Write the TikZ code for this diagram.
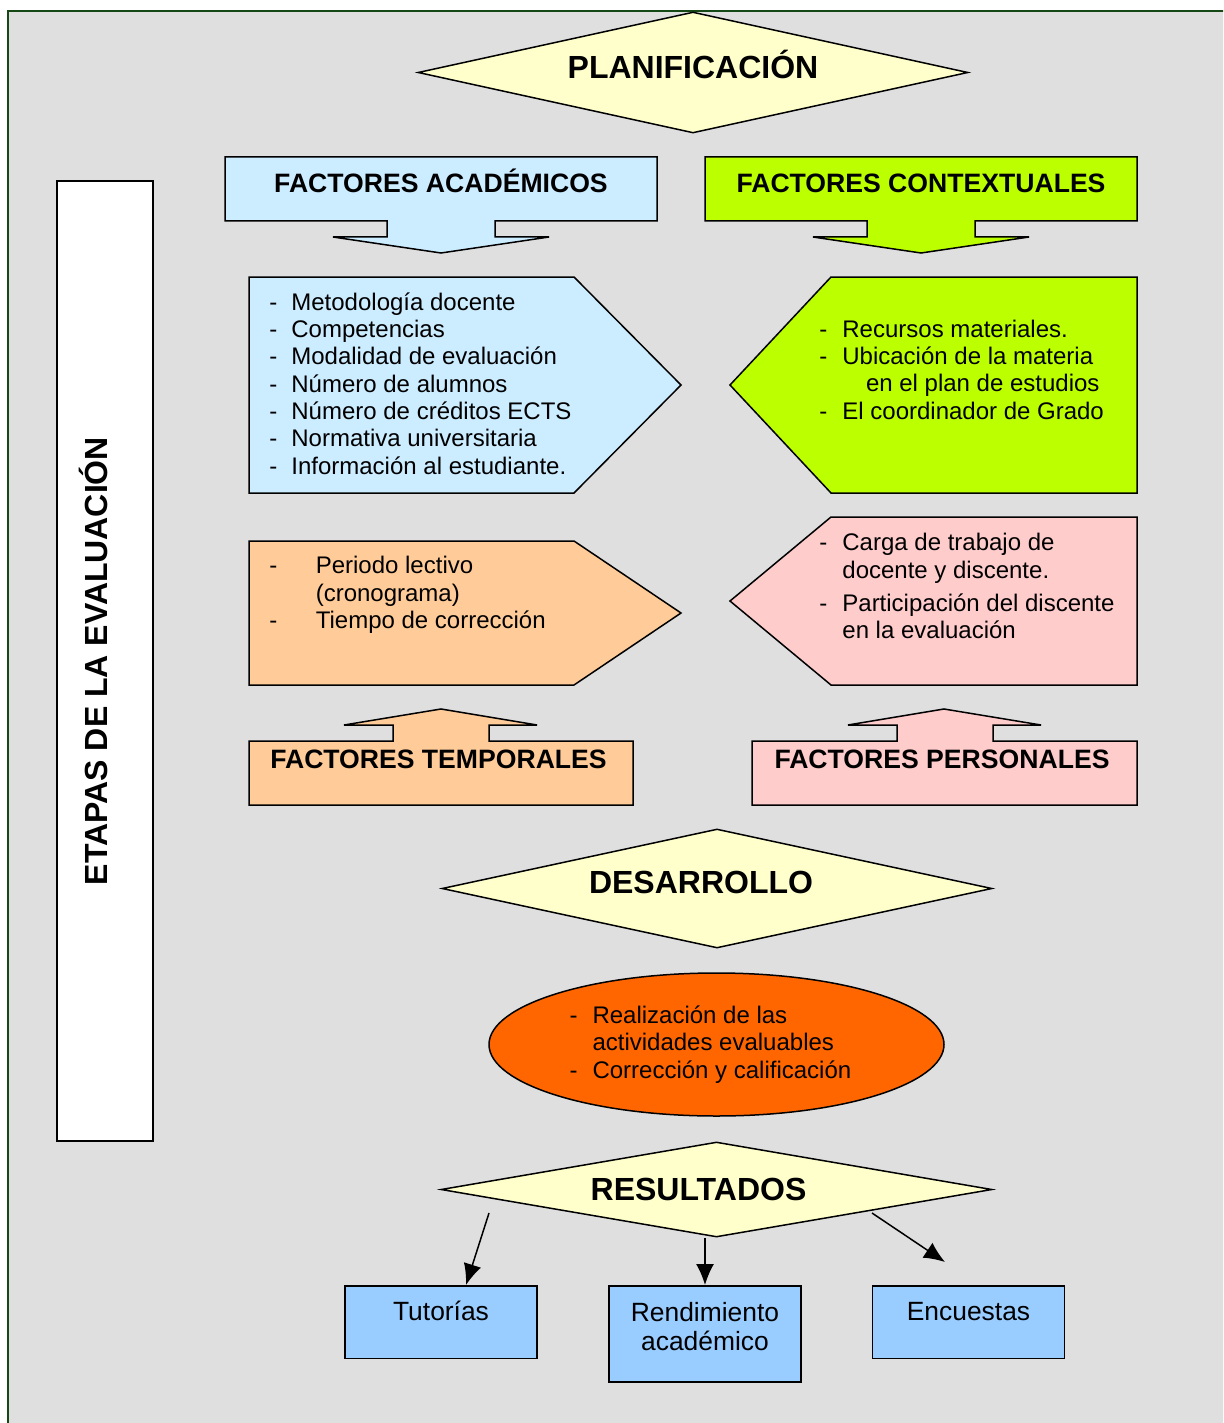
\documentclass[tikz,border=0pt]{standalone}
\usepackage{fontspec}
\setmainfont{Liberation Sans}
\usepackage{tikz}
\usetikzlibrary{shapes,arrows.meta}

\definecolor{fondo}{RGB}{223,223,223}
\definecolor{marco}{RGB}{22,72,22}
\definecolor{amarillo}{RGB}{255,255,204}
\definecolor{celeste}{RGB}{204,236,255}
\definecolor{lima}{RGB}{187,255,0}
\definecolor{melocoton}{RGB}{255,204,153}
\definecolor{rosa}{RGB}{255,204,204}
\definecolor{naranja}{RGB}{255,102,0}
\definecolor{azul}{RGB}{153,204,255}

\newcommand{\guion}[1][11pt]{\makebox[#1][l]{-}}

\tikzstyle{decision} = [diamond, draw, fill=amarillo, aspect=4.5, inner sep=0pt, line width=0.75pt, font=\bfseries\fontsize{16}{19}\selectfont]
\tikzstyle{panel} = [draw, line width=0.75pt]
\tikzstyle{factor} = [anchor=base, inner sep=0pt, font=\bfseries\fontsize{13.3}{16}\selectfont]
\tikzstyle{lista} = [anchor=base west, align=left, inner sep=0pt, font=\fontsize{12}{13.65}\selectfont]
\tikzstyle{result} = [rectangle, draw, fill=azul, line width=0.75pt, minimum width=96pt, inner sep=0pt, anchor=north, align=center, font=\fontsize{13.2}{14.75}\selectfont]
\tikzstyle{line} = [draw, line width=0.75pt, -{Latex[length=10.5pt,width=9pt]}]

\begin{document}
\begin{tikzpicture}[x=0.5pt, y=-0.5pt]
    \useasboundingbox (0,0) rectangle (1223,1423);
    \clip (0,0) rectangle (1223,1423);
    \draw[marco, line width=1pt, fill=fondo] (8,11) rectangle (1240,1440);

    % Place nodes
    \node [draw, fill=white, line width=0.75pt, rotate=90, minimum width=480pt, minimum height=48pt, inner sep=0pt, text height=8pt, text depth=6pt, font=\bfseries\fontsize{16}{19}\selectfont] (etapas) at (105,661) {ETAPAS DE LA EVALUACIÓN};
    \node [decision, minimum width=275pt, minimum height=60.5pt, text height=10pt, text depth=4pt] (plan) at (693,72.5) {PLANIFICACIÓN};

    % factores
    \filldraw [panel, fill=celeste] (225,157) -- (657,157) -- (657,221) -- (495,221) -- (495,237) -- (549,237) -- (441,253) -- (333,237) -- (387,237) -- (387,221) -- (225,221) -- cycle;
    \node [factor] (acad) at (441,192.3) {FACTORES ACADÉMICOS};
    \filldraw [panel, fill=lima] (705,157) -- (1137,157) -- (1137,221) -- (975,221) -- (975,237) -- (1029,237) -- (921,253) -- (813,237) -- (867,237) -- (867,221) -- (705,221) -- cycle;
    \node [factor] (contex) at (921,192.3) {FACTORES CONTEXTUALES};

    \filldraw [panel, fill=celeste] (249,277) -- (574,277) -- (681,385) -- (574,493) -- (249,493) -- cycle;
    \node [lista] (acadlista) at (269,474) {\guion Metodología docente\\ \guion Competencias\\ \guion Modalidad de evaluación\\ \guion Número de alumnos\\ \guion Número de créditos ECTS\\ \guion Normativa universitaria\\ \guion Información al estudiante.};
    \filldraw [panel, fill=lima] (1137,277) -- (831,277) -- (730,385) -- (831,493) -- (1137,493) -- cycle;
    \node [lista] (contexlista) at (819,419) {\guion[11.5pt]Recursos materiales.\\ \guion[11.5pt]Ubicación de la materia\\ \hspace*{23.3pt}en el plan de estudios\\ \guion[11.5pt]El coordinador de Grado};

    \filldraw [panel, fill=melocoton] (249,541) -- (574,541) -- (681,613) -- (574,685) -- (249,685) -- cycle;
    \node [lista] (templista) at (269,628.3) {\guion[23.2pt]Periodo lectivo\\ \hspace*{23.2pt}(cronograma)\\ \guion[23.2pt]Tiempo de corrección};
    \filldraw [panel, fill=rosa] (1137,517) -- (831,517) -- (730,601) -- (831,685) -- (1137,685) -- cycle;
    \node [lista] (perslista) at (819,638.3) {\guion[11.5pt]Carga de trabajo de\\ \hspace*{11.5pt}docente y discente.\\[2.8pt] \guion[11.5pt]Participación del discente\\ \hspace*{11.5pt}en la evaluación};

    \filldraw [panel, fill=melocoton] (249,805) -- (249,741) -- (393,741) -- (393,725) -- (344,725) -- (441,709) -- (537,725) -- (489,725) -- (489,741) -- (633,741) -- (633,805) -- cycle;
    \node [factor] (temp) at (438.5,768) {FACTORES TEMPORALES};
    \filldraw [panel, fill=rosa] (752,805) -- (752,741) -- (897,741) -- (897,725) -- (848,725) -- (944,709) -- (1041,725) -- (993,725) -- (993,741) -- (1137,741) -- (1137,805) -- cycle;
    \node [factor] (pers) at (942,768) {FACTORES PERSONALES};

    % desarrollo y resultados
    \node [decision, minimum width=275pt, minimum height=59.5pt, text height=10pt, text depth=5pt] (des) at (717,888.5) {DESARROLLO\hspace*{16pt}};
    \node [ellipse, draw, fill=naranja, line width=0.75pt, minimum width=227.5pt, minimum height=71.5pt, inner sep=0pt, align=left, font=\fontsize{12}{13.75}\selectfont] (activ) at (716.5,1044.5) {\guion[11.4pt]Realización de las\\ \hspace*{11.4pt}actividades evaluables\\ \guion[11.4pt]Corrección y calificación\hspace*{6pt}};
    \node [decision, minimum width=275.5pt, minimum height=47.5pt, text height=11pt, text depth=0.5pt] (res) at (716.5,1189.5) {RESULTADOS\hspace*{18pt}};

    \node [result, text height=17.5pt, text depth=18.75pt] (tut) at (441,1285) {Tutorías};
    \node [result, text height=32.5pt, text depth=15.5pt] (rend) at (705,1285) {Rendimiento\\académico};
    \node [result, text height=17.5pt, text depth=18.75pt] (enc) at (968.5,1285) {Encuestas};
    \coordinate (tutini) at (489,1213);
    \coordinate (encini) at (872,1213);
    \coordinate (encfin) at (945,1262);

    % Draw edges
    \path [line] (tutini) -- ([xshift=12.5pt]tut.north);
    \path [line] (res.south -| rend.north) -- (rend.north);
    \path [line] (encini) -- (encfin);
\end{tikzpicture}
\end{document}
